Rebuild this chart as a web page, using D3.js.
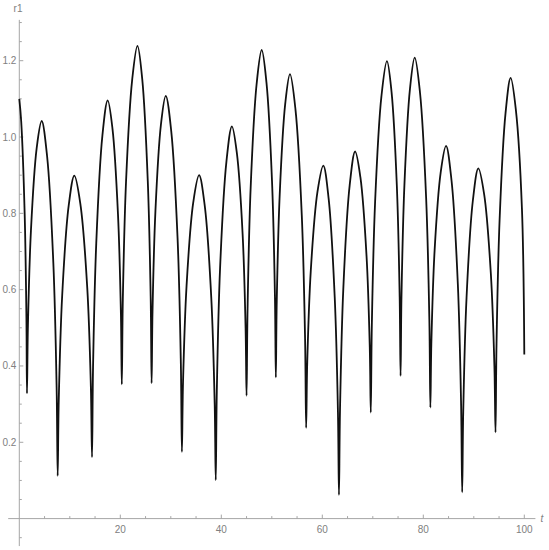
<!DOCTYPE html>
<html>
<head>
    <script src="https://d3js.org/d3.v7.min.js"></script>
    <style>
        body { margin: 0; background: #fff; }
        .tick-label { font-size: 10px; fill: #808080; font-family: 'Liberation Sans', Arial, sans-serif; }
        .axis-line { stroke: #a6a6a6; stroke-width: 1; }
    </style>
</head>
<body>
    <svg width="549" height="550"></svg>
    <script>
        // r1(t): minima, side points and maxima of each arch
        let tValues = [
            0, 0.38, 1.06, 1.41,
            1.52, 1.71, 2.31, 3.44, 4.43, 5.51, 6.74, 7.39,
            7.6, 7.81, 8.49, 9.78, 10.9, 12.09, 13.46, 14.17,
            14.4, 14.60, 15.24, 16.45, 17.5, 18.45, 19.54, 20.12,
            20.3, 20.50, 21.14, 22.35, 23.4, 24.35, 25.44, 26.02,
            26.2, 26.38, 26.96, 28.05, 29.0, 30.09, 31.34, 31.99,
            32.2, 32.42, 33.12, 34.44, 35.6, 36.72, 38.01, 38.69,
            38.9, 39.11, 39.76, 41.01, 42.1, 43.09, 44.22, 44.81,
            45.0, 45.20, 45.81, 46.98, 48.0, 48.95, 50.04, 50.62,
            50.8, 50.98, 51.56, 52.65, 53.6, 54.69, 55.94, 56.59,
            56.8, 57.02, 57.72, 59.04, 60.2, 61.25, 62.46, 63.10,
            63.3, 63.51, 64.16, 65.41, 66.5, 67.55, 68.76, 69.40,
            69.6, 69.81, 70.46, 71.71, 72.8, 73.72, 74.77, 75.32,
            75.5, 75.68, 76.26, 77.35, 78.3, 79.35, 80.56, 81.20,
            81.4, 81.60, 82.24, 83.45, 84.5, 85.59, 86.84, 87.49,
            87.7, 87.91, 88.56, 89.81, 90.9, 92.06, 93.38, 94.08,
            94.3, 94.50, 95.11, 96.28, 97.3, 98.34, 99.53, 100
        ];
        let rValues = [
            1.10, 1.04, 0.80, 0.526,
            0.328, 0.507, 0.756, 0.971, 1.042, 0.949, 0.670, 0.345,
            0.112, 0.309, 0.584, 0.820, 0.899, 0.825, 0.604, 0.346,
            0.161, 0.395, 0.722, 1.003, 1.096, 1.022, 0.798, 0.538,
            0.352, 0.574, 0.884, 1.150, 1.239, 1.151, 0.885, 0.576,
            0.355, 0.543, 0.807, 1.033, 1.108, 1.015, 0.735, 0.408,
            0.175, 0.356, 0.610, 0.828, 0.900, 0.820, 0.580, 0.301,
            0.101, 0.333, 0.657, 0.935, 1.028, 0.957, 0.746, 0.499,
            0.322, 0.549, 0.866, 1.137, 1.228, 1.142, 0.885, 0.585,
            0.370, 0.569, 0.847, 1.086, 1.165, 1.072, 0.794, 0.470,
            0.238, 0.410, 0.650, 0.856, 0.925, 0.839, 0.580, 0.278,
            0.062, 0.287, 0.602, 0.872, 0.962, 0.894, 0.688, 0.449,
            0.278, 0.508, 0.831, 1.107, 1.199, 1.117, 0.869, 0.580,
            0.374, 0.583, 0.874, 1.125, 1.208, 1.116, 0.841, 0.520,
            0.291, 0.463, 0.703, 0.908, 0.977, 0.886, 0.614, 0.296,
            0.069, 0.281, 0.578, 0.833, 0.918, 0.849, 0.641, 0.399,
            0.226, 0.458, 0.783, 1.062, 1.155, 1.07, 0.813, 0.43
        ];

        let xMajor = [20, 40, 60, 80, 100];
        let xMinor = [5, 10, 15, 25, 30, 35, 45, 50, 55, 65, 70, 75, 85, 90, 95];
        let yMajor = [0.2, 0.4, 0.6, 0.8, 1.0, 1.2];
        let yMinor = [-0.05, 0.05, 0.1, 0.15, 0.25, 0.3, 0.35, 0.45, 0.5, 0.55, 0.65, 0.7, 0.75,
                      0.85, 0.9, 0.95, 1.05, 1.1, 1.15, 1.25, 1.3];

        let data = tValues.map((t, i) => ({t: t, r: rValues[i]}));

        let svg = d3.select("svg");

        let x = d3.scaleLinear().domain([0, 100]).range([19.3, 524.3]);
        let y = d3.scaleLinear().domain([0, 1.2]).range([518.6, 60.7]);

        // axes lines
        svg.append("line").attr("class", "axis-line")
           .attr("x1", x(-2.2)).attr("x2", x(102.2))
           .attr("y1", y(0)).attr("y2", y(0));
        svg.append("line").attr("class", "axis-line")
           .attr("x1", x(0)).attr("x2", x(0))
           .attr("y1", y(-0.072)).attr("y2", y(1.307));

        // x ticks (pointing up)
        svg.selectAll(".xmaj").data(xMajor).enter().append("line")
           .attr("class", "axis-line")
           .attr("x1", d => x(d)).attr("x2", d => x(d))
           .attr("y1", y(0)).attr("y2", y(0) - 4);
        svg.selectAll(".xmin").data(xMinor).enter().append("line")
           .attr("class", "axis-line")
           .attr("x1", d => x(d)).attr("x2", d => x(d))
           .attr("y1", y(0)).attr("y2", y(0) - 2.5);
        svg.selectAll(".xlab").data(xMajor).enter().append("text")
           .attr("class", "tick-label")
           .attr("x", d => x(d)).attr("y", y(0) + 14)
           .attr("text-anchor", "middle")
           .text(d => d);

        // y ticks (pointing right)
        svg.selectAll(".ymaj").data(yMajor).enter().append("line")
           .attr("class", "axis-line")
           .attr("x1", x(0)).attr("x2", x(0) + 4)
           .attr("y1", d => y(d)).attr("y2", d => y(d));
        svg.selectAll(".ymin").data(yMinor).enter().append("line")
           .attr("class", "axis-line")
           .attr("x1", x(0)).attr("x2", x(0) + 2.5)
           .attr("y1", d => y(d)).attr("y2", d => y(d));
        svg.selectAll(".ylab").data(yMajor).enter().append("text")
           .attr("class", "tick-label")
           .attr("x", x(0) - 3).attr("y", d => y(d) + 3.5)
           .attr("text-anchor", "end")
           .text(d => d3.format(".1f")(d));

        // axis labels
        svg.append("text").attr("class", "tick-label")
           .attr("x", 18).attr("y", 12)
           .attr("text-anchor", "middle")
           .text("r1");
        svg.append("text").attr("class", "tick-label")
           .attr("x", 542).attr("y", y(0) + 3)
           .attr("text-anchor", "middle")
           .style("font-style", "italic")
           .text("t");

        // the curve
        let line = d3.line()
            .x(d => x(d.t))
            .y(d => y(d.r))
            .curve(d3.curveCatmullRom.alpha(0.5));

        svg.append("path")
           .datum(data)
           .attr("fill", "none")
           .attr("stroke", "#111")
           .attr("stroke-width", 1.8)
           .attr("stroke-linejoin", "round")
           .attr("d", line);
    </script>
</body>
</html>
